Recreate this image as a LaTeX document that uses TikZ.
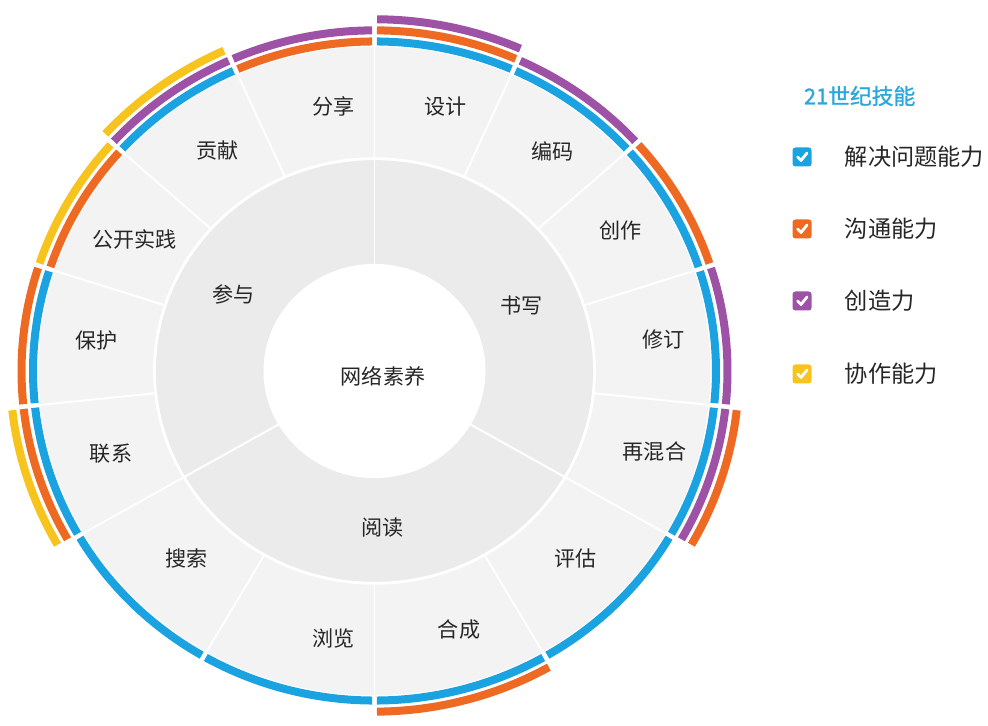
\documentclass[tikz,border=0pt]{standalone}
\usepackage{fontspec}
\usepackage{tikz}
\usepackage{xcolor}
\newfontfamily\cjk{Noto Sans CJK SC}
\newfontfamily\cjkheavy{Noto Sans CJK SC}[FakeBold=1.2]
\definecolor{skillblue}{HTML}{1AA3E0}
\definecolor{skillorange}{HTML}{EE6A22}
\definecolor{skillpurple}{HTML}{9E52A6}
\definecolor{skillyellow}{HTML}{F6C41C}
\definecolor{segouter}{HTML}{F3F3F3}
\definecolor{seginner}{HTML}{EBEBEB}
\definecolor{labeltext}{HTML}{262626}
\definecolor{titleblue}{HTML}{2AA8DC}

\begin{document}
\begin{tikzpicture}[x=0.25mm,y=0.25mm]
  \tikzstyle{band}=[line width=5.7pt]
  \tikzstyle{sep}=[white,line width=1.4pt]
  \tikzstyle{leaf}=[font=\cjk\fontsize{15}{18}\selectfont,text=labeltext]
  \tikzstyle{tick}=[draw=white,line width=2pt,line cap=round,line join=round]
  \tikzstyle{checkbox}=[minimum size=19*0.25mm,inner sep=0pt,rounded corners=2pt]
  \tikzstyle{legtext}=[font=\cjk\fontsize{16.5}{20}\selectfont,text=labeltext,anchor=west]
  \useasboundingbox (0,0) rectangle (988,725);

  \begin{scope}[shift={(374.5,354)},yscale=0.965]
    % rings
    \fill[segouter] (0,0) circle (336);
    \fill[seginner] (0,0) circle (220);
    \fill[white] (0,0) circle (111);
    \draw[white,line width=2pt] (0,0) circle (220);

    % outer separators
    \draw[sep] (90:220) -- (90:337);
    \draw[sep] (66:220) -- (66:337);
    \draw[sep] (42:220) -- (42:337);
    \draw[sep] (18:220) -- (18:337);
    \draw[sep] (-6:220) -- (-6:337);
    \draw[sep] (-30:220) -- (-30:337);
    \draw[sep] (-60:220) -- (-60:337);
    \draw[sep] (-90:220) -- (-90:337);
    \draw[sep] (-120:220) -- (-120:337);
    \draw[sep] (-150:220) -- (-150:337);
    \draw[sep] (-174:220) -- (-174:337);
    \draw[sep] (162:220) -- (162:337);
    \draw[sep] (138:220) -- (138:337);
    \draw[sep] (114:220) -- (114:337);

    % inner separators
    \draw[sep] (90:111) -- (90:220);
    \draw[sep] (-30:111) -- (-30:220);
    \draw[sep] (-150:111) -- (-150:220);

    % skill bands
    \draw[band,skillblue] (89.6:341.5) arc (89.6:66.4:341.5);
    \draw[band,skillorange] (89.6:353) arc (89.6:66.4:353);
    \draw[band,skillpurple] (89.6:364.5) arc (89.6:66.4:364.5);

    \draw[band,skillblue] (65.6:341.5) arc (65.6:42.4:341.5);
    \draw[band,skillpurple] (65.6:353) arc (65.6:42.4:353);

    \draw[band,skillblue] (41.6:341.5) arc (41.6:18.4:341.5);
    \draw[band,skillorange] (41.6:353) arc (41.6:18.4:353);

    \draw[band,skillblue] (17.6:341.5) arc (17.6:-5.6:341.5);
    \draw[band,skillpurple] (17.6:353) arc (17.6:-5.6:353);

    \draw[band,skillblue] (-6.4:341.5) arc (-6.4:-29.6:341.5);
    \draw[band,skillpurple] (-6.4:353) arc (-6.4:-29.6:353);
    \draw[band,skillorange] (-6.4:364.5) arc (-6.4:-29.6:364.5);

    \draw[band,skillblue] (-30.4:341.5) arc (-30.4:-59.6:341.5);

    \draw[band,skillblue] (-60.4:341.5) arc (-60.4:-89.6:341.5);
    \draw[band,skillorange] (-60.4:353) arc (-60.4:-89.6:353);

    \draw[band,skillblue] (-90.4:341.5) arc (-90.4:-119.6:341.5);

    \draw[band,skillblue] (-120.4:341.5) arc (-120.4:-149.6:341.5);

    \draw[band,skillblue] (-150.4:341.5) arc (-150.4:-173.6:341.5);
    \draw[band,skillorange] (-150.4:353) arc (-150.4:-173.6:353);
    \draw[band,skillyellow] (-150.4:364.5) arc (-150.4:-173.6:364.5);

    \draw[band,skillblue] (185.6:341.5) arc (185.6:162.4:341.5);
    \draw[band,skillorange] (185.6:353) arc (185.6:162.4:353);

    \draw[band,skillorange] (161.6:341.5) arc (161.6:138.4:341.5);
    \draw[band,skillyellow] (161.6:353) arc (161.6:138.4:353);

    \draw[band,skillblue] (137.6:341.5) arc (137.6:114.4:341.5);
    \draw[band,skillpurple] (137.6:353) arc (137.6:114.4:353);
    \draw[band,skillyellow] (137.6:364.5) arc (137.6:114.4:364.5);

    \draw[band,skillorange] (113.6:341.5) arc (113.6:90.4:341.5);
    \draw[band,skillpurple] (113.6:353) arc (113.6:90.4:353);

    % labels
    \node[leaf] (literacy) at (8.5,-6) {网络素养};
    \node[leaf] (writing) at (24.6:162) {书写};
    \node[leaf] (reading) at (-87:162) {阅读};
    \node[leaf] (joining) at (150.6:162) {参与};

    \node[leaf] (design) at (75.5:283) {设计};
    \node[leaf] (coding) at (52:289) {编码};
    \node[leaf] (creating) at (30.5:286) {创作};
    \node[leaf] (revising) at (6.5:291) {修订};
    \node[leaf] (remixing) at (-16.5:292) {再混合};
    \node[leaf] (evaluating) at (-44:280) {评估};
    \node[leaf] (synthesizing) at (-72.5:281) {合成};
    \node[leaf] (browsing) at (-98.5:280) {浏览};
    \node[leaf] (searching) at (-134:270) {搜索};
    \node[leaf] (connecting) at (-162:277) {联系};
    \node[leaf] (protecting) at (173.5:280) {保护};
    \node[leaf] (openpractice) at (150.5:276) {公开实践};
    \node[leaf] (contributing) at (124.5:277) {贡献};
    \node[leaf] (sharing) at (98.5:277) {分享};
  \end{scope}

  % legend
  \node[anchor=west,font=\cjkheavy\fontsize{15.5}{18}\selectfont,text=titleblue] (skilltitle) at (799,629) {21世纪技能};

  \node[checkbox,fill=skillblue] (boxsolve) at (802,568) {};
  \node[checkbox,fill=skillorange] (boxtalk) at (802,496) {};
  \node[checkbox,fill=skillpurple] (boxcreate) at (802,424) {};
  \node[checkbox,fill=skillyellow] (boxteam) at (802,351) {};

  \draw[tick] ([shift={(-4.5,0)}]boxsolve.center) -- ([shift={(-1,-3.5)}]boxsolve.center) -- ([shift={(5,4)}]boxsolve.center);
  \draw[tick] ([shift={(-4.5,0)}]boxtalk.center) -- ([shift={(-1,-3.5)}]boxtalk.center) -- ([shift={(5,4)}]boxtalk.center);
  \draw[tick] ([shift={(-4.5,0)}]boxcreate.center) -- ([shift={(-1,-3.5)}]boxcreate.center) -- ([shift={(5,4)}]boxcreate.center);
  \draw[tick] ([shift={(-4.5,0)}]boxteam.center) -- ([shift={(-1,-3.5)}]boxteam.center) -- ([shift={(5,4)}]boxteam.center);

  \node[legtext] (solve) at (840,568) {解决问题能力};
  \node[legtext] (talk) at (840,496) {沟通能力};
  \node[legtext] (create) at (840,424) {创造力};
  \node[legtext] (team) at (840,351) {协作能力};
\end{tikzpicture}
\end{document}
